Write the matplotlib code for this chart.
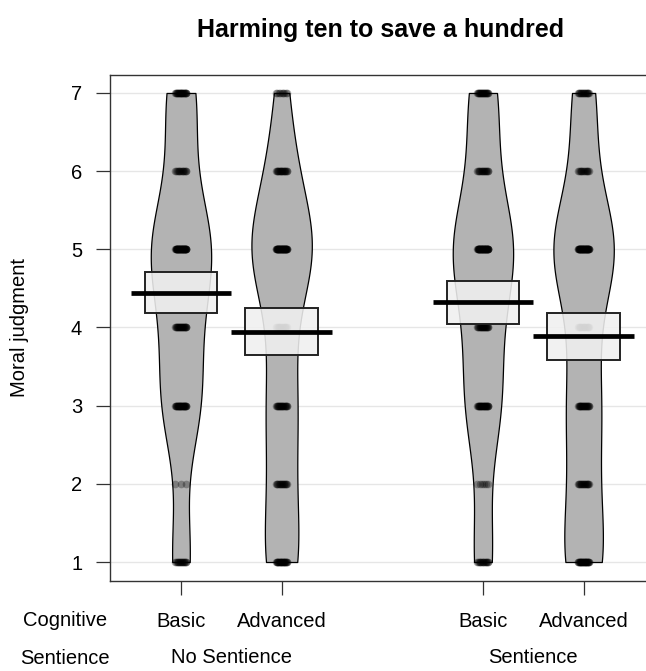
import numpy as np
import matplotlib
matplotlib.use("Agg")
import matplotlib.pyplot as plt
from matplotlib.patches import Rectangle
import matplotlib.transforms as mtransforms

plt.rcParams['font.family'] = ['Liberation Sans', 'DejaVu Sans']

levels = [1, 2, 3, 4, 5, 6, 7]
cognitive = ["Basic", "Advanced", "Basic", "Advanced"]
sentience = ["No Sentience", "Sentience"]
positions = [1, 2, 4, 5]

# number of responses at each level 1..7, one list per bean
counts_basic_nosent = [17, 3, 32, 24, 50, 15, 25]
counts_adv_nosent = [26, 17, 22, 14, 50, 20, 9]
counts_basic_sent = [16, 6, 28, 22, 49, 17, 23]
counts_adv_sent = [30, 18, 24, 15, 50, 14, 18]
all_counts = [counts_basic_nosent, counts_adv_nosent, counts_basic_sent, counts_adv_sent]

means = [4.44, 3.94, 4.32, 3.89]
ci_low = [4.185, 3.65, 4.045, 3.58]
ci_high = [4.71, 4.245, 4.595, 4.185]


def bean_density(counts, bw=0.65):
    y = np.linspace(min(levels), max(levels), 301)
    vals = np.repeat(levels, counts)
    dens = np.exp(-0.5 * ((y[:, None] - vals[None, :]) / bw) ** 2).sum(axis=1)
    return y, dens / dens.max()


fig = plt.figure(figsize=(6.46, 6.71), dpi=100)
ax = fig.add_axes([110 / 646, 1 - 581 / 671, 1 - 110 / 646, (581 - 75) / 671])

bean_w = 0.30
for x, counts, m, lo, hi in zip(positions, all_counts, means, ci_low, ci_high):
    y, d = bean_density(counts)
    ax.fill_betweenx(y, x - bean_w * d, x + bean_w * d, facecolor='#b3b3b3',
                     edgecolor='black', lw=0.9, zorder=2)
    for lev, n in zip(levels, counts):
        xs = x + np.linspace(-0.055, 0.055, n)
        ax.plot(xs, [lev] * n, 'o', color='black', alpha=0.3, ms=5.5,
                mec='none', zorder=3)
    ax.add_patch(Rectangle((x - 0.36, lo), 0.72, hi - lo, fc=(0.94, 0.94, 0.94, 0.88),
                           ec='#222222', lw=1.4, zorder=4))
    ax.plot([x - 0.5, x + 0.5], [m, m], color='black', lw=3.4,
            solid_capstyle='butt', zorder=5)

ax.set_xlim(0.295, 5.62)
ax.set_ylim(0.757, 7.23)
ax.set_yticks(levels)
ax.set_xticks(positions)
ax.set_xticklabels(cognitive)
ax.grid(axis='y', color='#e6e6e6', lw=1)
ax.set_axisbelow(True)
ax.spines['right'].set_visible(False)
for s in ['left', 'top', 'bottom']:
    ax.spines[s].set_color('#333333')
    ax.spines[s].set_linewidth(1.0)
ax.tick_params(axis='both', length=10, width=0.9, color='#333333', labelsize=14.5)
ax.tick_params(axis='y', pad=10)
ax.tick_params(axis='x', pad=12)

# group labels under the tick labels
trans = mtransforms.blended_transform_factory(ax.transData, ax.transAxes)
for i, name in enumerate(sentience):
    xc = (positions[2 * i] + positions[2 * i + 1]) / 2
    ax.text(xc, -0.152, name, transform=trans, ha='center', va='center', fontsize=14.5)

fig.text(65 / 646, 1 - 621 / 671, "Cognitive", ha='center', va='center', fontsize=14.5)
fig.text(65 / 646, 1 - 658 / 671, "Sentience", ha='center', va='center', fontsize=14.5)
fig.text(20 / 646, 1 - 327 / 671, "Moral judgment", rotation=90, ha='center',
         va='center', fontsize=14.5)
fig.text(381 / 646, 1 - 30 / 671, "Harming ten to save a hundred", ha='center',
         va='center', fontsize=18, fontweight='bold')

fig.savefig("out.png", dpi=100)
